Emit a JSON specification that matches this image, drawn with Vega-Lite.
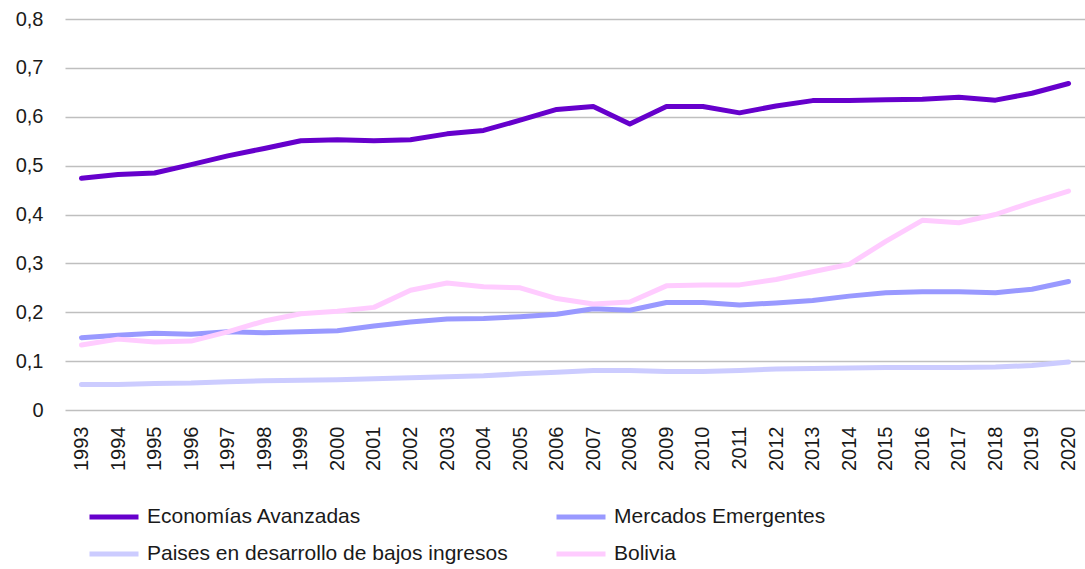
{
  "$schema": "https://vega.github.io/schema/vega-lite/v6.json",
  "autosize": {"type": "none"},
  "width": 1020,
  "height": 391,
  "padding": {"left": 65, "top": 19, "right": 0, "bottom": 159},
  "background": "white",
  "config": {
    "view": {"stroke": null},
    "font": "Liberation Sans"
  },
  "datasets": {
    "d": [
      {"year":"1993","serie":"Economías Avanzadas","value":0.474},
      {"year":"1994","serie":"Economías Avanzadas","value":0.482},
      {"year":"1995","serie":"Economías Avanzadas","value":0.485},
      {"year":"1996","serie":"Economías Avanzadas","value":0.502},
      {"year":"1997","serie":"Economías Avanzadas","value":0.520},
      {"year":"1998","serie":"Economías Avanzadas","value":0.535},
      {"year":"1999","serie":"Economías Avanzadas","value":0.551},
      {"year":"2000","serie":"Economías Avanzadas","value":0.553},
      {"year":"2001","serie":"Economías Avanzadas","value":0.551},
      {"year":"2002","serie":"Economías Avanzadas","value":0.553},
      {"year":"2003","serie":"Economías Avanzadas","value":0.565},
      {"year":"2004","serie":"Economías Avanzadas","value":0.572},
      {"year":"2005","serie":"Economías Avanzadas","value":0.593},
      {"year":"2006","serie":"Economías Avanzadas","value":0.615},
      {"year":"2007","serie":"Economías Avanzadas","value":0.621},
      {"year":"2008","serie":"Economías Avanzadas","value":0.585},
      {"year":"2009","serie":"Economías Avanzadas","value":0.621},
      {"year":"2010","serie":"Economías Avanzadas","value":0.621},
      {"year":"2011","serie":"Economías Avanzadas","value":0.608},
      {"year":"2012","serie":"Economías Avanzadas","value":0.622},
      {"year":"2013","serie":"Economías Avanzadas","value":0.633},
      {"year":"2014","serie":"Economías Avanzadas","value":0.633},
      {"year":"2015","serie":"Economías Avanzadas","value":0.635},
      {"year":"2016","serie":"Economías Avanzadas","value":0.636},
      {"year":"2017","serie":"Economías Avanzadas","value":0.640},
      {"year":"2018","serie":"Economías Avanzadas","value":0.634},
      {"year":"2019","serie":"Economías Avanzadas","value":0.648},
      {"year":"2020","serie":"Economías Avanzadas","value":0.668},
      {"year":"1993","serie":"Mercados Emergentes","value":0.148},
      {"year":"1994","serie":"Mercados Emergentes","value":0.153},
      {"year":"1995","serie":"Mercados Emergentes","value":0.157},
      {"year":"1996","serie":"Mercados Emergentes","value":0.155},
      {"year":"1997","serie":"Mercados Emergentes","value":0.160},
      {"year":"1998","serie":"Mercados Emergentes","value":0.158},
      {"year":"1999","serie":"Mercados Emergentes","value":0.160},
      {"year":"2000","serie":"Mercados Emergentes","value":0.162},
      {"year":"2001","serie":"Mercados Emergentes","value":0.172},
      {"year":"2002","serie":"Mercados Emergentes","value":0.180},
      {"year":"2003","serie":"Mercados Emergentes","value":0.186},
      {"year":"2004","serie":"Mercados Emergentes","value":0.187},
      {"year":"2005","serie":"Mercados Emergentes","value":0.191},
      {"year":"2006","serie":"Mercados Emergentes","value":0.196},
      {"year":"2007","serie":"Mercados Emergentes","value":0.207},
      {"year":"2008","serie":"Mercados Emergentes","value":0.204},
      {"year":"2009","serie":"Mercados Emergentes","value":0.220},
      {"year":"2010","serie":"Mercados Emergentes","value":0.220},
      {"year":"2011","serie":"Mercados Emergentes","value":0.215},
      {"year":"2012","serie":"Mercados Emergentes","value":0.219},
      {"year":"2013","serie":"Mercados Emergentes","value":0.224},
      {"year":"2014","serie":"Mercados Emergentes","value":0.233},
      {"year":"2015","serie":"Mercados Emergentes","value":0.240},
      {"year":"2016","serie":"Mercados Emergentes","value":0.242},
      {"year":"2017","serie":"Mercados Emergentes","value":0.242},
      {"year":"2018","serie":"Mercados Emergentes","value":0.240},
      {"year":"2019","serie":"Mercados Emergentes","value":0.247},
      {"year":"2020","serie":"Mercados Emergentes","value":0.263},
      {"year":"1993","serie":"Paises en desarrollo de bajos ingresos","value":0.052},
      {"year":"1994","serie":"Paises en desarrollo de bajos ingresos","value":0.052},
      {"year":"1995","serie":"Paises en desarrollo de bajos ingresos","value":0.054},
      {"year":"1996","serie":"Paises en desarrollo de bajos ingresos","value":0.055},
      {"year":"1997","serie":"Paises en desarrollo de bajos ingresos","value":0.058},
      {"year":"1998","serie":"Paises en desarrollo de bajos ingresos","value":0.060},
      {"year":"1999","serie":"Paises en desarrollo de bajos ingresos","value":0.061},
      {"year":"2000","serie":"Paises en desarrollo de bajos ingresos","value":0.062},
      {"year":"2001","serie":"Paises en desarrollo de bajos ingresos","value":0.064},
      {"year":"2002","serie":"Paises en desarrollo de bajos ingresos","value":0.066},
      {"year":"2003","serie":"Paises en desarrollo de bajos ingresos","value":0.068},
      {"year":"2004","serie":"Paises en desarrollo de bajos ingresos","value":0.070},
      {"year":"2005","serie":"Paises en desarrollo de bajos ingresos","value":0.074},
      {"year":"2006","serie":"Paises en desarrollo de bajos ingresos","value":0.077},
      {"year":"2007","serie":"Paises en desarrollo de bajos ingresos","value":0.081},
      {"year":"2008","serie":"Paises en desarrollo de bajos ingresos","value":0.081},
      {"year":"2009","serie":"Paises en desarrollo de bajos ingresos","value":0.079},
      {"year":"2010","serie":"Paises en desarrollo de bajos ingresos","value":0.079},
      {"year":"2011","serie":"Paises en desarrollo de bajos ingresos","value":0.081},
      {"year":"2012","serie":"Paises en desarrollo de bajos ingresos","value":0.084},
      {"year":"2013","serie":"Paises en desarrollo de bajos ingresos","value":0.085},
      {"year":"2014","serie":"Paises en desarrollo de bajos ingresos","value":0.086},
      {"year":"2015","serie":"Paises en desarrollo de bajos ingresos","value":0.087},
      {"year":"2016","serie":"Paises en desarrollo de bajos ingresos","value":0.087},
      {"year":"2017","serie":"Paises en desarrollo de bajos ingresos","value":0.087},
      {"year":"2018","serie":"Paises en desarrollo de bajos ingresos","value":0.088},
      {"year":"2019","serie":"Paises en desarrollo de bajos ingresos","value":0.091},
      {"year":"2020","serie":"Paises en desarrollo de bajos ingresos","value":0.098},
      {"year":"1993","serie":"Bolivia","value":0.133},
      {"year":"1994","serie":"Bolivia","value":0.145},
      {"year":"1995","serie":"Bolivia","value":0.139},
      {"year":"1996","serie":"Bolivia","value":0.141},
      {"year":"1997","serie":"Bolivia","value":0.160},
      {"year":"1998","serie":"Bolivia","value":0.182},
      {"year":"1999","serie":"Bolivia","value":0.197},
      {"year":"2000","serie":"Bolivia","value":0.202},
      {"year":"2001","serie":"Bolivia","value":0.210},
      {"year":"2002","serie":"Bolivia","value":0.245},
      {"year":"2003","serie":"Bolivia","value":0.260},
      {"year":"2004","serie":"Bolivia","value":0.252},
      {"year":"2005","serie":"Bolivia","value":0.250},
      {"year":"2006","serie":"Bolivia","value":0.228},
      {"year":"2007","serie":"Bolivia","value":0.217},
      {"year":"2008","serie":"Bolivia","value":0.221},
      {"year":"2009","serie":"Bolivia","value":0.254},
      {"year":"2010","serie":"Bolivia","value":0.256},
      {"year":"2011","serie":"Bolivia","value":0.256},
      {"year":"2012","serie":"Bolivia","value":0.267},
      {"year":"2013","serie":"Bolivia","value":0.283},
      {"year":"2014","serie":"Bolivia","value":0.298},
      {"year":"2015","serie":"Bolivia","value":0.345},
      {"year":"2016","serie":"Bolivia","value":0.388},
      {"year":"2017","serie":"Bolivia","value":0.383},
      {"year":"2018","serie":"Bolivia","value":0.400},
      {"year":"2019","serie":"Bolivia","value":0.425},
      {"year":"2020","serie":"Bolivia","value":0.448}
    ]
  },
  "data": {"name": "d"},
  "mark": {"type": "line", "strokeWidth": 5, "strokeCap": "round", "strokeJoin": "round"},
  "encoding": {
    "x": {
      "field": "year",
      "type": "ordinal",
      "scale": {"type": "point", "padding": 0.45},
      "axis": {
        "title": null,
        "labelAngle": -90,
        "labelFontSize": 20,
        "labelColor": "#1a1a1a",
        "labelPadding": 16,
        "ticks": false,
        "domain": false,
        "grid": false
      }
    },
    "y": {
      "field": "value",
      "type": "quantitative",
      "scale": {"domain": [0, 0.8], "nice": false},
      "axis": {
        "title": null,
        "values": [0, 0.1, 0.2, 0.3, 0.4, 0.5, 0.6, 0.7, 0.8],
        "labelExpr": "datum.value == 0 ? '0' : replace(format(datum.value, '.1f'), '.', ',')",
        "labelFontSize": 20,
        "labelColor": "#1a1a1a",
        "labelPadding": 22,
        "ticks": false,
        "domain": false,
        "grid": true,
        "gridColor": "#BFBFBF",
        "gridWidth": 1.5
      }
    },
    "color": {
      "field": "serie",
      "type": "nominal",
      "scale": {
        "domain": ["Economías Avanzadas", "Mercados Emergentes", "Paises en desarrollo de bajos ingresos", "Bolivia"],
        "range": ["#6600CC", "#9999FF", "#CCCCFF", "#FFCCFF"]
      },
      "legend": {
        "title": null,
        "orient": "none",
        "legendX": 22,
        "legendY": 471,
        "direction": "horizontal",
        "columns": 2,
        "padding": 0,
        "symbolType": "stroke",
        "symbolSize": 2401,
        "symbolStrokeWidth": 5,
        "labelFontSize": 21,
        "labelColor": "#1a1a1a",
        "labelOffset": 6,
        "labelLimit": 500,
        "columnPadding": 38,
        "rowPadding": -13
      }
    }
  }
}
